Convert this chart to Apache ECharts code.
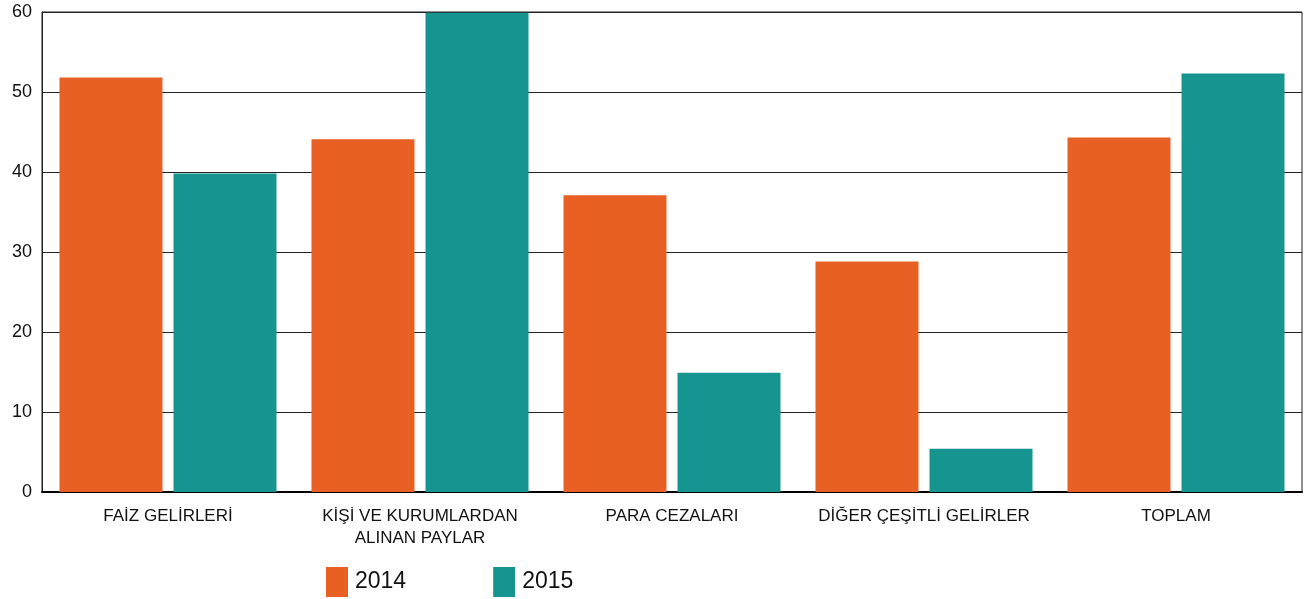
<!DOCTYPE html>
<html>
<head>
<meta charset="utf-8">
<script src="https://cdn.jsdelivr.net/npm/echarts@6/dist/echarts.min.js"></script>
<style>
  html, body { margin: 0; padding: 0; background: #ffffff; }
  #chart { width: 1307px; height: 599px; }
</style>
</head>
<body>
<div id="chart"></div>
<script>
  // kategoriler ve seriler
  const categories = ['FAİZ GELİRLERİ', 'KİŞİ VE KURUMLARDAN\nALINAN PAYLAR', 'PARA CEZALARI', 'DİĞER ÇEŞİTLİ GELİRLER', 'TOPLAM'];
  const years = ['2014', '2015'];
  const values2014 = [51.8, 44.1, 37.1, 28.8, 44.3];
  const values2015 = [39.8, 59.9, 14.9, 5.4, 52.3];

  const chart = echarts.init(document.getElementById('chart'));

  chart.setOption({
    animation: false,
    textStyle: { fontFamily: 'Liberation Sans, Arial, sans-serif' },
    grid: {
      left: 42,
      right: 5,
      top: 12,
      bottom: 107,
      show: true,
      borderColor: '#222',
      borderWidth: 1
    },
    legend: {
      data: years,
      left: 321,
      top: 562,
      itemWidth: 22,
      itemHeight: 30,
      itemGap: 87,
      icon: 'rect',
      textStyle: { fontSize: 23, color: '#111', padding: [0, 0, 0, 2] }
    },
    xAxis: {
      type: 'category',
      data: categories,
      axisTick: { show: false },
      axisLine: { lineStyle: { color: '#000', width: 2 } },
      axisLabel: {
        color: '#111',
        fontSize: 17,
        lineHeight: 22,
        margin: 13,
        interval: 0
      }
    },
    yAxis: {
      type: 'value',
      min: 0,
      max: 60,
      interval: 10,
      axisLine: { show: true, lineStyle: { color: '#222', width: 1 } },
      axisTick: { show: false },
      axisLabel: { color: '#111', fontSize: 18, margin: 10 },
      splitLine: { lineStyle: { color: '#222', width: 1 } }
    },
    series: [{
        name: '2014',
        type: 'bar',
        data: values2014,
        barWidth: 103,
        barGap: '10.7%',
        itemStyle: { color: '#E86024' }
      },
      {
        name: '2015',
        type: 'bar',
        data: values2015,
        barWidth: 103,
        itemStyle: { color: '#169490' }
      }
    ]
  });
</script>
</body>
</html>
